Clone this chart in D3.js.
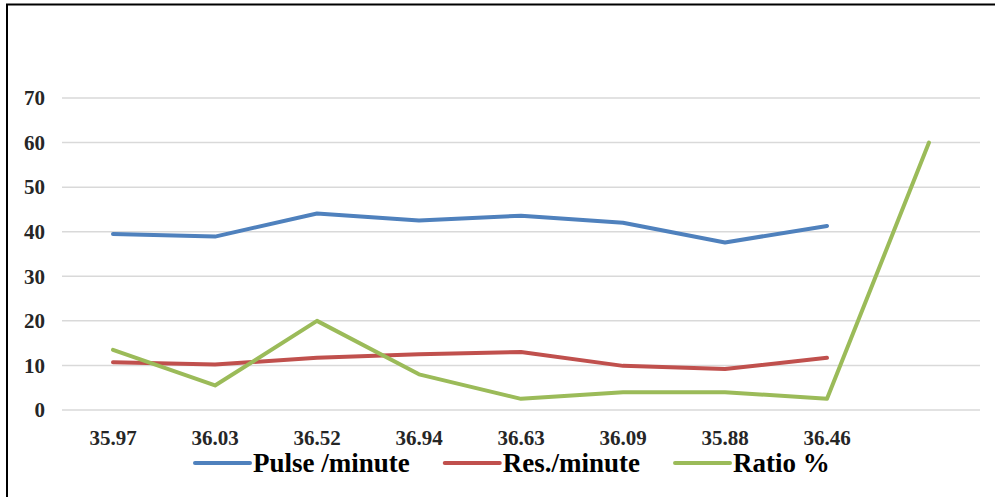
<!DOCTYPE html>
<html lang="en">
<head>
    <meta charset="UTF-8">
    <title>Pulse, Res. and Ratio</title>
    <script src="https://d3js.org/d3.v7.min.js"></script>
    <style>
        body { margin: 0; background: #fff; }
    </style>
</head>
<body>
    <svg width="995" height="497"></svg>
    <script>
        // data
        const categories = ["35.97", "36.03", "36.52", "36.94", "36.63", "36.09", "35.88", "36.46", ""];
        const pulse = [39.5, 38.9, 44.1, 42.5, 43.6, 42.0, 37.6, 41.3];
        const res = [10.7, 10.2, 11.7, 12.5, 13.0, 9.9, 9.2, 11.7];
        const ratio = [13.5, 5.5, 20, 8, 2.5, 4, 4, 2.5, 60];
        const yTicks = [0, 10, 20, 30, 40, 50, 60, 70];

        const series = [
            {name: "Pulse /minute", values: pulse, color: "#4F81BD"},
            {name: "Res./minute", values: res, color: "#C0504D"},
            {name: "Ratio %", values: ratio, color: "#9BBB59"}
        ];

        const FONT = "Liberation Serif";
        const svg = d3.select("svg");

        // outer frame (only top and left edges show)
        svg.append("rect")
            .attr("x", 7).attr("y", 4.5)
            .attr("width", 1000).attr("height", 600)
            .attr("fill", "none")
            .attr("stroke", "#000")
            .attr("stroke-width", 2);

        const x = d3.scaleBand().domain(d3.range(categories.length)).range([62, 980]);
        const y = d3.scaleLinear().domain([0, 70]).range([410, 98]);

        // gridlines
        svg.append("g")
            .selectAll("line")
            .data(yTicks)
            .join("line")
            .attr("x1", 62).attr("x2", 980)
            .attr("y1", d => y(d)).attr("y2", d => y(d))
            .attr("stroke", "#d9d9d9")
            .attr("stroke-width", 1.5);

        // y axis labels
        svg.append("g")
            .selectAll("text")
            .data(yTicks)
            .join("text")
            .attr("x", 45)
            .attr("y", d => y(d))
            .attr("dy", "0.35em")
            .attr("text-anchor", "end")
            .attr("font-family", FONT)
            .attr("font-weight", "bold")
            .attr("font-size", 21)
            .attr("fill", "#262626")
            .text(d => d);

        // x axis labels
        svg.append("g")
            .selectAll("text")
            .data(categories)
            .join("text")
            .attr("x", (d, i) => x(i) + x.bandwidth() / 2)
            .attr("y", 445)
            .attr("text-anchor", "middle")
            .attr("font-family", FONT)
            .attr("font-weight", "bold")
            .attr("font-size", 21)
            .attr("fill", "#262626")
            .text(d => d);

        const line = d3.line()
            .x((d, i) => x(i) + x.bandwidth() / 2)
            .y(d => y(d));

        svg.append("g")
            .selectAll("path")
            .data(series)
            .join("path")
            .attr("d", d => line(d.values))
            .attr("fill", "none")
            .attr("stroke", d => d.color)
            .attr("stroke-width", 4)
            .attr("stroke-linejoin", "round")
            .attr("stroke-linecap", "round");

        // legend
        const legend = svg.append("g");
        let lx = 195;
        const ly = 463;
        series.forEach(s => {
            legend.append("line")
                .attr("x1", lx).attr("x2", lx + 55)
                .attr("y1", ly).attr("y2", ly)
                .attr("stroke", s.color)
                .attr("stroke-width", 4)
                .attr("stroke-linecap", "round");
            const t = legend.append("text")
                .attr("x", lx + 58)
                .attr("y", ly)
                .attr("dy", "0.35em")
                .attr("font-family", FONT)
                .attr("font-weight", "bold")
                .attr("font-size", 27)
                .attr("fill", "#000")
                .text(s.name);
            lx += 58 + t.node().getComputedTextLength() + 35;
        });
    </script>
</body>
</html>
